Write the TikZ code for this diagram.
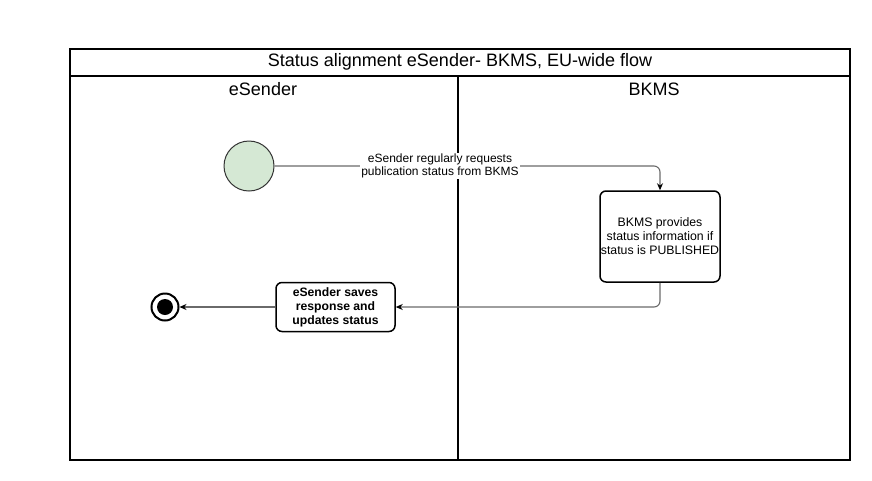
\documentclass[tikz,border=0pt]{standalone}
\usepackage{fontspec}
\setmainfont{Liberation Sans}
\usetikzlibrary{arrows.meta}

\definecolor{startgreen}{HTML}{D5E8D4}
\definecolor{flowgray}{HTML}{6A6A6A}

\begin{document}
\begin{tikzpicture}[x=1pt, y=-1pt, >={Stealth[length=7pt, width=6pt, black]},
  every lane/.style={draw, line width=1.2pt},
  every header/.style={font=\fontsize{18}{21}\selectfont},
  every action/.style={draw, line width=1.5pt, rounded corners=6pt, align=center,
    inner sep=0pt, font=\fontsize{12.3}{14}\selectfont},
  every flow/.style={draw=flowgray, line width=1.1pt, ->, rounded corners=6pt},
  every label/.style={fill=white, align=center, inner sep=1pt,
    font=\fontsize{12}{13.5}\selectfont}]

\useasboundingbox (0,0) rectangle (872,480);

% pool and lanes
\draw [every lane/.try] (70,49) rectangle (850,460);
\draw [every lane/.try] (70,76) -- (850,76);
\draw [every lane/.try] (458,76) -- (458,460);

\node [every header/.try] (title) at (460,62) {Status alignment eSender- BKMS, EU-wide flow};

\foreach \l/\x [count=\i] in {eSender/263, BKMS/654}
  \node [every header/.try] (lane-\i) at (\x,89) {\l};

% states
\node [circle, draw=black!80, line width=1pt, fill=startgreen, minimum size=50pt] (start) at (249,166) {};
\node [circle, draw, line width=2pt, minimum size=27pt] (end) at (165,307) {};
\node [circle, fill=black, minimum size=16pt, inner sep=0pt] (end-dot) at (end) {};

% actions
\node [every action/.try, minimum width=120pt, minimum height=91pt] (provide) at (660,236.5)
  {BKMS provides\\status information if\\status is PUBLISHED};
\node [every action/.try, minimum width=119pt, minimum height=49pt, font=\fontsize{12.2}{14}\selectfont\bfseries] (save) at (335.5,307)
  {eSender saves\\response and\\updates status};

% flows
\draw [every flow/.try] (start.east) -- (start.east -| provide.north) -- (provide.north);
\node [every label/.try] (request) at (440,166) {eSender regularly requests\\publication status from BKMS};

\draw [every flow/.try] (provide.south) -- (provide.south |- save.east) -- (save.east);
\draw [every flow/.try] (save.west) -- (end.east);

\end{tikzpicture}
\end{document}
